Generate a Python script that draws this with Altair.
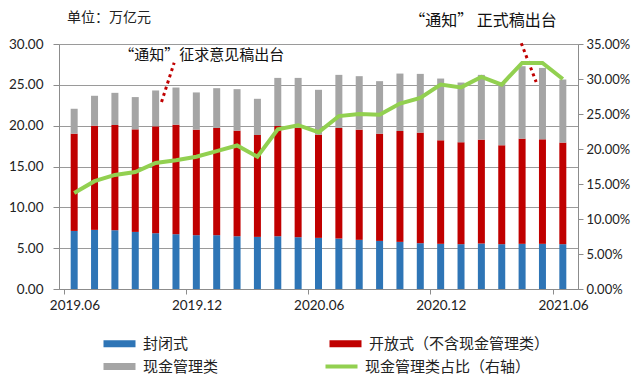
import altair as alt
import pandas as pd

months = ["2019.06", "2019.07", "2019.08", "2019.09", "2019.10", "2019.11", "2019.12",
          "2020.01", "2020.02", "2020.03", "2020.04", "2020.05", "2020.06",
          "2020.07", "2020.08", "2020.09", "2020.10", "2020.11", "2020.12",
          "2021.01", "2021.02", "2021.03", "2021.04", "2021.05", "2021.06"]
closed = [7.11, 7.24, 7.20, 6.99, 6.83, 6.71, 6.59, 6.59, 6.46, 6.38, 6.46, 6.34, 6.26,
          6.18, 6.02, 5.89, 5.77, 5.61, 5.53, 5.49, 5.57, 5.49, 5.53, 5.53, 5.49]
open_ex_cash = [11.91, 12.76, 12.88, 12.56, 13.09, 13.41, 12.92, 13.13, 12.93, 12.48, 13.50, 13.38, 12.64,
                13.54, 13.49, 13.13, 13.58, 13.54, 12.68, 12.48, 12.72, 12.11, 12.88, 12.80, 12.44]
cash_mgmt = [3.05, 3.66, 3.94, 3.95, 4.39, 4.55, 4.56, 4.87, 5.08, 4.43, 5.89, 6.13, 5.49,
             6.50, 6.55, 6.43, 7.03, 7.19, 7.56, 7.31, 7.93, 7.52, 8.87, 8.74, 7.72]
cash_ratio = [13.7, 15.4, 16.3, 16.7, 18.0, 18.4, 18.9, 19.7, 20.5, 18.9, 22.8, 23.4, 22.4,
              24.7, 25.0, 24.9, 26.5, 27.3, 29.2, 28.8, 30.3, 29.2, 32.3, 32.3, 30.0]

bar_series = ["封闭式", "开放式（不含现金管理类）", "现金管理类"]
bar_colors = ["#2E75B6", "#C00000", "#A5A5A5"]
line_series = "现金管理类占比（右轴）"
line_color = "#92D050"

left_ticks = [0, 5, 10, 15, 20, 25, 30]
right_ticks = [0, 5, 10, 15, 20, 25, 30, 35]
x_tick_vals = [-0.5, 5.5, 11.5, 17.5, 23.5]

unit_text = ["单位：万亿元"]
unit_x = [-0.5]
unit_y = [33.15]

annot_text = ["“通知”征求意见稿出台", "“通知” 正式稿出台"]
annot_text_x = [6.26, 20.08]
annot_text_y = [28.65, 32.85]
annot_text_size = [15, 16]
annot_line_x = [4.29, 21.96]
annot_line_y = [22.9, 30.1]
annot_line_x2 = [4.91, 22.69]
annot_line_y2 = [27.7, 25.35]

CJK = "Noto Sans CJK SC"
NUM = "Lato"
W, H = 519, 245

rows = []
for i, m in enumerate(months):
    for k, (s, v) in enumerate(zip(bar_series, (closed[i], open_ex_cash[i], cash_mgmt[i]))):
        rows.append({"idx": i, "month": m, "series": s, "value": v, "ord": k})
bar_df = pd.DataFrame(rows)
line_df = pd.DataFrame({"idx": list(range(len(months))), "month": months,
                        "ratio": cash_ratio, "series": [line_series] * len(months)})
text_df = pd.DataFrame({"t": annot_text, "x": annot_text_x, "y": annot_text_y, "s": annot_text_size})
unit_df = pd.DataFrame({"t": unit_text, "x": unit_x, "y": unit_y})
al_df = pd.DataFrame({"x": annot_line_x, "y": annot_line_y, "x2": annot_line_x2, "y2": annot_line_y2})

months_js = "[" + ",".join("'%s'" % m for m in months) + "]"
xscale = alt.Scale(domain=[-0.5, len(months) - 0.5], nice=False, zero=False)
step = W / len(months)

x_axis = alt.Axis(values=x_tick_vals, labelExpr=months_js + "[round(datum.value + 0.5)]",
                  labelOffset=step / 2, labelFlush=False, title=None, grid=False,
                  domainColor="#8c8c8c", tickColor="#8c8c8c", tickSize=5,
                  labelFont=NUM, labelFontSize=13.5, labelColor="#222", labelPadding=4)
yscale = alt.Scale(domain=[0, 30], nice=False)
y_axis = alt.Axis(values=left_ticks, format=".2f", title=None, grid=True, gridColor="#9a9a9a",
                  domainColor="#8c8c8c", tickColor="#8c8c8c", tickSize=6,
                  labelFont=NUM, labelFontSize=13.5, labelColor="#222", labelPadding=10)

legend_fill = alt.Legend(orient="none", direction="horizontal", legendX=42, legendY=292,
                         columns=2, columnPadding=108, rowPadding=7, title=None, padding=0,
                         symbolType="M-1,-0.7H5.4V0.7H-1Z", symbolSize=100,
                         symbolStrokeWidth=0, labelOffset=27, labelLimit=300,
                         labelFont=CJK, labelFontSize=15, labelColor="#222")

bars = alt.Chart(bar_df).mark_bar(size=7).encode(
    x=alt.X("idx:Q", scale=xscale, axis=x_axis),
    y=alt.Y("value:Q", stack="zero", scale=yscale, axis=y_axis),
    color=alt.Color("series:N", scale=alt.Scale(domain=bar_series, range=bar_colors),
                    legend=legend_fill),
    order=alt.Order("ord:Q", sort="ascending"),
)

annot_lines = alt.Chart(al_df).mark_rule(color="#C00000", strokeWidth=3, strokeDash=[3, 3.5]).encode(
    x=alt.X("x:Q", scale=xscale), x2="x2:Q",
    y=alt.Y("y:Q", scale=yscale), y2="y2:Q",
)
annot_texts = alt.Chart(text_df).mark_text(font=CJK, color="#111", baseline="middle",
                                           align="center").encode(
    x=alt.X("x:Q", scale=xscale), y=alt.Y("y:Q", scale=yscale), text="t:N",
    size=alt.Size("s:Q", scale=None, legend=None),
)
unit_label = alt.Chart(unit_df).mark_text(font=CJK, fontSize=14, color="#222", baseline="middle",
                                          align="left", dx=3).encode(
    x=alt.X("x:Q", scale=xscale), y=alt.Y("y:Q", scale=yscale), text="t:N",
)

left = alt.layer(bars, annot_lines, annot_texts, unit_label)

legend_line = alt.Legend(orient="none", legendX=264, legendY=315, title=None, padding=0,
                         symbolType="M-1,0H5.4", symbolSize=100, symbolStrokeWidth=4,
                         labelOffset=27, labelLimit=300,
                         labelFont=CJK, labelFontSize=15, labelColor="#222")

line = alt.Chart(line_df).mark_line(strokeWidth=4).encode(
    x=alt.X("idx:Q", scale=xscale),
    y=alt.Y("ratio:Q", scale=alt.Scale(domain=[0, 35], nice=False),
            axis=alt.Axis(orient="right", values=right_ticks, title=None, grid=False,
                          labelExpr="format(datum.value, '.2f') + '%'",
                          domainColor="#8c8c8c", tickColor="#8c8c8c", tickSize=5,
                          labelFont=NUM, labelFontSize=13, labelColor="#222", labelPadding=3)),
    stroke=alt.Stroke("series:N", scale=alt.Scale(domain=[line_series], range=[line_color]),
                      legend=legend_line),
)

chart = alt.layer(left, line).resolve_scale(y="independent").properties(
    width=W, height=H,
    autosize=alt.AutoSizeParams(type="none"),
    padding={"left": 51, "top": 36, "right": 54, "bottom": 86},
).configure_view(stroke=None).configure(background="white")

chart.save("out.html", embed_options={"renderer": "svg", "actions": False})
